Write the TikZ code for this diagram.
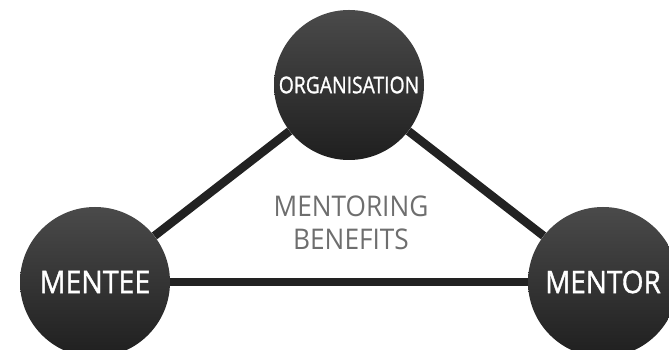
\documentclass[tikz,border=0pt]{standalone}
\usepackage{fontspec}
\setmainfont{Open Sans}
\newfontfamily\partyfont[FakeBold=1.3]{Open Sans}
\usepackage{tikz}
\definecolor{discdark}{HTML}{1F1F1F}
\definecolor{disclight}{HTML}{4A4A4A}
\definecolor{linkgray}{HTML}{222222}
\definecolor{textgray}{HTML}{6E6E6E}
\tikzset{
  party/.style={circle, minimum size=150pt, inner sep=0pt,
    top color=disclight, bottom color=discdark,
    text=white, font=\partyfont\fontsize{#1}{#1}\selectfont},
  link/.style={line width=8.5pt, draw=linkgray},
  benefit/.style={text=textgray, align=center,
    font=\fontsize{28.5}{33}\selectfont}
}

\begin{document}
\begin{tikzpicture}[x=1pt,y=1pt]
\useasboundingbox (0,0) rectangle (669,350);
% the three parties
\node[party=31] (mentee) at (95,68) {\scalebox{0.92}[1]{MENTEE}};
\node[party=23] (organisation) at (349,265) {\scalebox{0.84}[1]{ORGANISATION}};
\node[party=31] (mentor) at (603,68) {\scalebox{0.9}[1]{MENTOR}};
% links between them
\draw[link] (mentee) -- (organisation);
\draw[link] (organisation) -- (mentor);
\draw[link] (mentee) -- (mentor);
% centre label
\node[benefit] (benefits) at (351,127) {\scalebox{0.92}[1]{MENTORING}\\\scalebox{0.92}[1]{BENEFITS}};
\end{tikzpicture}
\end{document}
